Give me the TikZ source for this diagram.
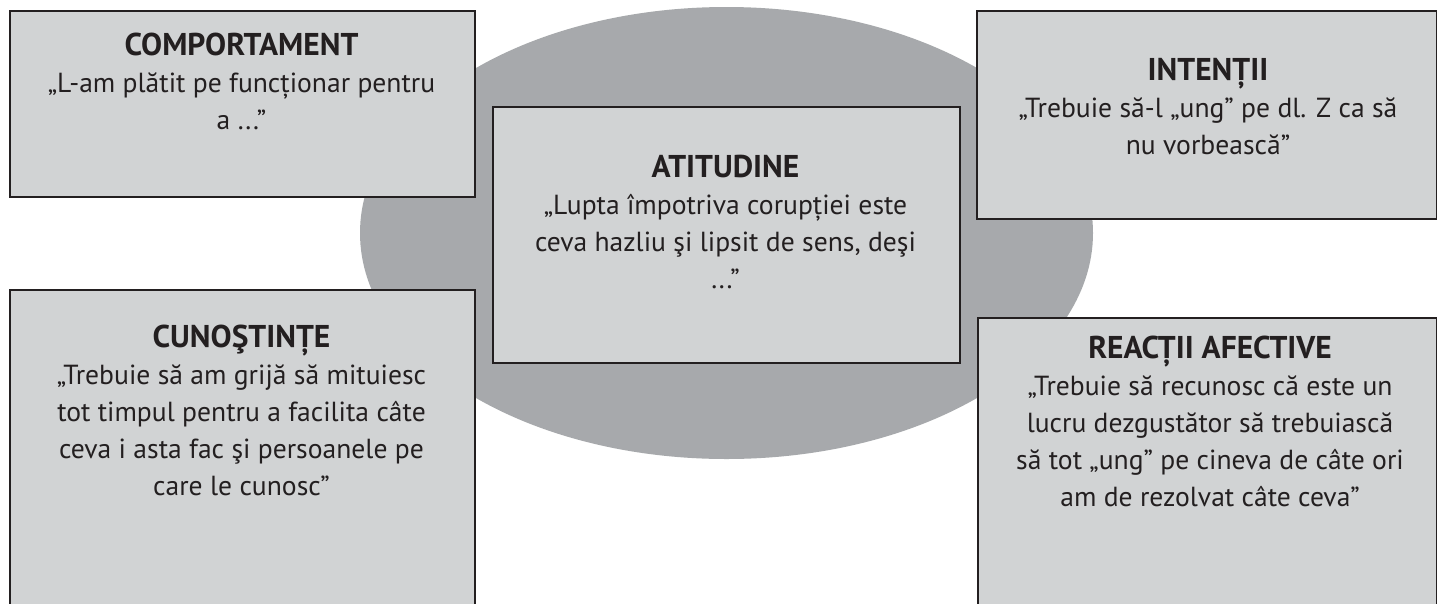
\documentclass[tikz,border=0pt]{standalone}
\usepackage{fontspec}
\setmainfont{PT Sans}
\definecolor{boxfill}{HTML}{D1D3D4}
\definecolor{ellfill}{HTML}{A7A9AC}
\definecolor{edgecol}{HTML}{231F20}
\newcommand{\ttl}[1]{{\bfseries\fontsize{31.5}{37}\selectfont #1}}
\begin{document}
\begin{tikzpicture}[x=1pt,y=-1pt,
  panel/.style={draw=edgecol, line width=2pt, fill=boxfill, inner sep=0pt, anchor=north west},
  txt/.style={align=center, font=\fontsize{27.6}{37}\selectfont, text=edgecol, inner sep=0pt, anchor=base}]
\useasboundingbox (0,0) rectangle (1437,603);
\clip (0,0) rectangle (1437,603);
\fill[white] (0,0) rectangle (1437,603);
\fill[ellfill] (726.5,233) ellipse [x radius=366.5, y radius=226];
\node[panel, minimum width=465pt, minimum height=186pt] (comp) at (9,10) {};
\node[panel, minimum width=460pt, minimum height=208pt] (inte) at (976,10) {};
\node[panel, minimum width=467pt, minimum height=256pt] (atit) at (492,106) {};
\node[panel, minimum width=465pt, minimum height=351pt] (cuno) at (9,289) {};
\node[panel, minimum width=459pt, minimum height=323pt] (reac) at (977,317) {};
\node[txt] (tcomp) at (241.5,129) {\ttl{COMPORTAMENT}\\„L-am plătit pe funcționar pentru\\a ...”};
\node[txt] (tinte) at (1208,154) {\ttl{INTENȚII}\\„Trebuie să-l „ung” pe dl. Z ca să\\nu vorbească”};
\node[txt] (tatit) at (725.5,288) {\ttl{ATITUDINE}\\„Lupta împotriva corupției este\\ceva hazliu şi lipsit de sens, deşi\\...”};
\node[txt] (tcuno) at (241.5,495) {\ttl{CUNOŞTINȚE}\\„Trebuie să am grijă să mituiesc\\tot timpul pentru a facilita câte\\ceva i asta fac şi persoanele pe\\care le cunosc”};
\node[txt] (treac) at (1210,506) {\ttl{REACȚII AFECTIVE}\\„Trebuie să recunosc că este un\\lucru dezgustător să trebuiască\\să tot „ung” pe cineva de câte ori\\am de rezolvat câte ceva”};
\end{tikzpicture}
\end{document}
